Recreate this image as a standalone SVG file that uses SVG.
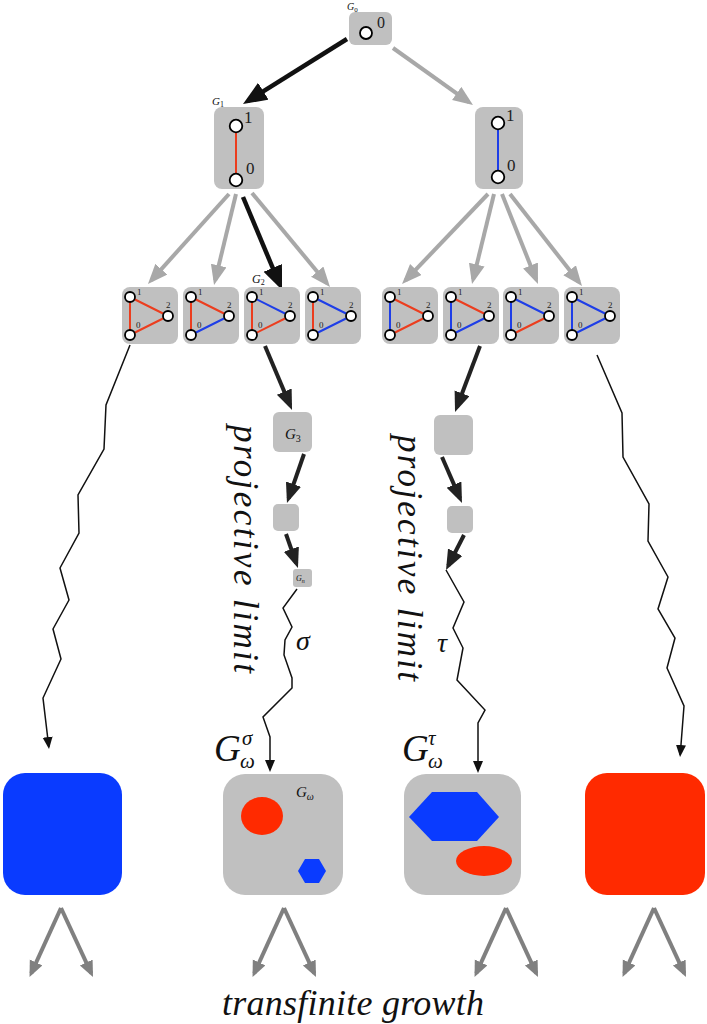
<svg xmlns="http://www.w3.org/2000/svg" width="707" height="1024" viewBox="0 0 707 1024">
<style>
.box{fill:#c0c0c0}
.nd{fill:#fff;stroke:#000;stroke-width:1.8}
.er{stroke:#ec3d1e;stroke-width:2}
.eb{stroke:#1e3ee8;stroke-width:2}
.lab{font-family:"Liberation Serif",serif;fill:#222}
.it{font-family:"Liberation Serif",serif;font-style:italic;fill:#111}
.wv{fill:none;stroke:#111;stroke-width:1.5;stroke-linejoin:miter}
.ab{stroke:#111;stroke-width:4.5;fill:none}
.ag{stroke:#a8a8a8;stroke-width:4;fill:none}
.ac{stroke:#222;stroke-width:4;fill:none}
.abot{stroke:#808080;stroke-width:4;fill:none}
</style>
<defs>
<marker id="hBig" markerUnits="userSpaceOnUse" markerWidth="26" markerHeight="22" refX="18" refY="10" orient="auto"><path d="M0,0 L24,10 L0,20 z" fill="#111"/></marker>
<marker id="hGray" markerUnits="userSpaceOnUse" markerWidth="22" markerHeight="18" refX="15" refY="8" orient="auto"><path d="M0,0 L20,8 L0,16 z" fill="#a8a8a8"/></marker>
<marker id="hChain" markerUnits="userSpaceOnUse" markerWidth="22" markerHeight="18" refX="15" refY="8" orient="auto"><path d="M0,0 L20,8 L0,16 z" fill="#222"/></marker>
<marker id="hSmall" markerUnits="userSpaceOnUse" markerWidth="14" markerHeight="12" refX="10" refY="5" orient="auto"><path d="M0,0 L12,5 L0,10 z" fill="#111"/></marker>
<marker id="hBot" markerUnits="userSpaceOnUse" markerWidth="18" markerHeight="16" refX="12" refY="7" orient="auto"><path d="M0,0 L16,7 L0,14 z" fill="#808080"/></marker>
</defs>

<g id="connectors">
<line class="ab" x1="347" y1="39" x2="248.1" y2="100.8" marker-end="url(#hBig)"/>
<line class="ag" x1="393" y1="48" x2="468.9" y2="102.1" marker-end="url(#hGray)"/>
<line class="ag" x1="229" y1="194" x2="151.3" y2="280.3" marker-end="url(#hGray)"/>
<line class="ag" x1="236" y1="194" x2="215.2" y2="280.1" marker-end="url(#hGray)"/>
<line class="ab" x1="243" y1="197" x2="279.7" y2="284.5" marker-end="url(#hBig)"/>
<line class="ag" x1="252" y1="193" x2="326.8" y2="283.2" marker-end="url(#hGray)"/>
<line class="ag" x1="488" y1="194" x2="405.5" y2="280.4" marker-end="url(#hGray)"/>
<line class="ag" x1="494" y1="194" x2="473.2" y2="279.1" marker-end="url(#hGray)"/>
<line class="ag" x1="502" y1="194" x2="536.1" y2="279.4" marker-end="url(#hGray)"/>
<line class="ag" x1="510" y1="194" x2="578.9" y2="282.1" marker-end="url(#hGray)"/>
<line class="ac" x1="265" y1="346" x2="290.1" y2="405.4" marker-end="url(#hChain)"/>
<line class="ac" x1="304" y1="454" x2="288.6" y2="498.3" marker-end="url(#hChain)"/>
<line class="ac" x1="286" y1="534" x2="296.3" y2="563.3" marker-end="url(#hChain)"/>
<line class="ac" x1="480" y1="346" x2="456.8" y2="407.3" marker-end="url(#hChain)"/>
<line class="ac" x1="442" y1="457" x2="460" y2="498.4" marker-end="url(#hChain)"/>
<line class="ac" x1="464" y1="535" x2="448.3" y2="565.6" marker-end="url(#hChain)"/>
<polyline class="wv" points="130,345 106,405 104,449 78,495 79,533 60,568 69,600 53,629 61,659 43,698 48.8,747" marker-end="url(#hSmall)"/>
<polyline class="wv" points="297,589 283,608 292,627 285,640 284,655 292,678 292,688 263,717 270,737 270,770" marker-end="url(#hSmall)"/>
<polyline class="wv" points="446,570 464,602 453,628 463,648 457,680 485,710 478,723 478,771" marker-end="url(#hSmall)"/>
<polyline class="wv" points="597,355 622,413 623,457 649,504 648,541 668,577 658,609 675,638 667,668 684,706 680.2,755" marker-end="url(#hSmall)"/>
<line class="abot" x1="61" y1="908" x2="31.2" y2="973.4" marker-end="url(#hBot)"/>
<line class="abot" x1="61" y1="908" x2="91.3" y2="973.4" marker-end="url(#hBot)"/>
<line class="abot" x1="284" y1="908" x2="254.2" y2="973.4" marker-end="url(#hBot)"/>
<line class="abot" x1="284" y1="908" x2="314.3" y2="973.4" marker-end="url(#hBot)"/>
<line class="abot" x1="506" y1="908" x2="476.2" y2="973.4" marker-end="url(#hBot)"/>
<line class="abot" x1="506" y1="908" x2="536.3" y2="973.4" marker-end="url(#hBot)"/>
<line class="abot" x1="654" y1="908" x2="624.2" y2="973.4" marker-end="url(#hBot)"/>
<line class="abot" x1="654" y1="908" x2="684.3" y2="973.4" marker-end="url(#hBot)"/>
</g>

<g id="G0">
<rect class="box" x="349" y="12" width="43" height="33" rx="6"/>
<circle class="nd" cx="366" cy="33" r="6"/>
<text class="lab" x="377" y="28" font-size="16">0</text>
<text class="it" x="347" y="10" font-size="10">G<tspan font-style="normal" font-size="7" dy="2">0</tspan></text>
</g>

<g id="G1">
<rect class="box" x="214" y="107" width="50" height="82" rx="8"/>
<line class="er" x1="236" y1="126" x2="236" y2="180"/>
<circle class="nd" cx="236" cy="126" r="6.3"/>
<circle class="nd" cx="236" cy="180" r="6.3"/>
<text class="lab" x="244" y="123" font-size="17">1</text>
<text class="lab" x="246" y="174" font-size="17">0</text>
<text class="it" x="212" y="105" font-size="11">G<tspan font-style="normal" font-size="8" dy="2">1</tspan></text>
</g>

<g id="H1">
<rect class="box" x="475" y="107" width="48" height="82" rx="8"/>
<line class="eb" x1="498" y1="123" x2="498" y2="177"/>
<circle class="nd" cx="498" cy="123" r="6.3"/>
<circle class="nd" cx="498" cy="177" r="6.3"/>
<text class="lab" x="506" y="121" font-size="17">1</text>
<text class="lab" x="507" y="171" font-size="17">0</text>
</g>

<g id="T1" transform="translate(122,287)">
<rect class="box" width="56" height="57" rx="8"/>
<line class="er" x1="8" y1="10" x2="8" y2="48"/><line class="er" x1="8" y1="10" x2="46" y2="29"/><line class="er" x1="8" y1="48" x2="46" y2="29"/>
<circle class="nd" cx="8" cy="10" r="5"/><circle class="nd" cx="46" cy="29" r="5"/><circle class="nd" cx="8" cy="48" r="5"/>
<text class="lab" x="15" y="8" font-size="9">1</text><text class="lab" x="44" y="21" font-size="9">2</text><text class="lab" x="14" y="41" font-size="9">0</text>
</g>
<g id="T2" transform="translate(183,287)">
<rect class="box" width="56" height="57" rx="8"/>
<line class="er" x1="8" y1="10" x2="8" y2="48"/><line class="er" x1="8" y1="10" x2="46" y2="29"/><line class="eb" x1="8" y1="48" x2="46" y2="29"/>
<circle class="nd" cx="8" cy="10" r="5"/><circle class="nd" cx="46" cy="29" r="5"/><circle class="nd" cx="8" cy="48" r="5"/>
<text class="lab" x="15" y="8" font-size="9">1</text><text class="lab" x="44" y="21" font-size="9">2</text><text class="lab" x="14" y="41" font-size="9">0</text>
</g>
<g id="T3" transform="translate(244,287)">
<rect class="box" width="56" height="57" rx="8"/>
<line class="er" x1="8" y1="10" x2="8" y2="48"/><line class="eb" x1="8" y1="10" x2="46" y2="29"/><line class="er" x1="8" y1="48" x2="46" y2="29"/>
<circle class="nd" cx="8" cy="10" r="5"/><circle class="nd" cx="46" cy="29" r="5"/><circle class="nd" cx="8" cy="48" r="5"/>
<text class="lab" x="15" y="8" font-size="9">1</text><text class="lab" x="44" y="21" font-size="9">2</text><text class="lab" x="14" y="41" font-size="9">0</text>
<text class="it" x="8" y="-4" font-size="12">G<tspan font-style="normal" font-size="8" dy="2">2</tspan></text>
</g>
<g id="T4" transform="translate(305,287)">
<rect class="box" width="56" height="57" rx="8"/>
<line class="er" x1="8" y1="10" x2="8" y2="48"/><line class="eb" x1="8" y1="10" x2="46" y2="29"/><line class="eb" x1="8" y1="48" x2="46" y2="29"/>
<circle class="nd" cx="8" cy="10" r="5"/><circle class="nd" cx="46" cy="29" r="5"/><circle class="nd" cx="8" cy="48" r="5"/>
<text class="lab" x="15" y="8" font-size="9">1</text><text class="lab" x="44" y="21" font-size="9">2</text><text class="lab" x="14" y="41" font-size="9">0</text>
</g>
<g id="T5" transform="translate(382,287)">
<rect class="box" width="56" height="57" rx="8"/>
<line class="eb" x1="8" y1="10" x2="8" y2="48"/><line class="er" x1="8" y1="10" x2="46" y2="29"/><line class="er" x1="8" y1="48" x2="46" y2="29"/>
<circle class="nd" cx="8" cy="10" r="5"/><circle class="nd" cx="46" cy="29" r="5"/><circle class="nd" cx="8" cy="48" r="5"/>
<text class="lab" x="15" y="8" font-size="9">1</text><text class="lab" x="44" y="21" font-size="9">2</text><text class="lab" x="14" y="41" font-size="9">0</text>
</g>
<g id="T6" transform="translate(443,287)">
<rect class="box" width="56" height="57" rx="8"/>
<line class="eb" x1="8" y1="10" x2="8" y2="48"/><line class="er" x1="8" y1="10" x2="46" y2="29"/><line class="eb" x1="8" y1="48" x2="46" y2="29"/>
<circle class="nd" cx="8" cy="10" r="5"/><circle class="nd" cx="46" cy="29" r="5"/><circle class="nd" cx="8" cy="48" r="5"/>
<text class="lab" x="15" y="8" font-size="9">1</text><text class="lab" x="44" y="21" font-size="9">2</text><text class="lab" x="14" y="41" font-size="9">0</text>
</g>
<g id="T7" transform="translate(503,287)">
<rect class="box" width="56" height="57" rx="8"/>
<line class="eb" x1="8" y1="10" x2="8" y2="48"/><line class="eb" x1="8" y1="10" x2="46" y2="29"/><line class="er" x1="8" y1="48" x2="46" y2="29"/>
<circle class="nd" cx="8" cy="10" r="5"/><circle class="nd" cx="46" cy="29" r="5"/><circle class="nd" cx="8" cy="48" r="5"/>
<text class="lab" x="15" y="8" font-size="9">1</text><text class="lab" x="44" y="21" font-size="9">2</text><text class="lab" x="14" y="41" font-size="9">0</text>
</g>
<g id="T8" transform="translate(564,287)">
<rect class="box" width="56" height="57" rx="8"/>
<line class="eb" x1="8" y1="10" x2="8" y2="48"/><line class="eb" x1="8" y1="10" x2="46" y2="29"/><line class="eb" x1="8" y1="48" x2="46" y2="29"/>
<circle class="nd" cx="8" cy="10" r="5"/><circle class="nd" cx="46" cy="29" r="5"/><circle class="nd" cx="8" cy="48" r="5"/>
<text class="lab" x="15" y="8" font-size="9">1</text><text class="lab" x="44" y="21" font-size="9">2</text><text class="lab" x="14" y="41" font-size="9">0</text>
</g>

<g id="G3">
<rect class="box" x="273" y="412" width="39" height="40" rx="6"/>
<text class="it" x="285" y="439" font-size="15">G<tspan font-style="normal" font-size="10" dy="3">3</tspan></text>
</g>
<g id="G4"><rect class="box" x="273" y="504" width="26" height="27" rx="5"/></g>
<g id="Gn">
<rect class="box" x="293" y="569" width="19" height="18" rx="3"/>
<text class="it" x="296" y="581" font-size="8">G<tspan font-size="6" dy="1.5">n</tspan></text>
</g>
<g id="H3"><rect class="box" x="434" y="415" width="39" height="40" rx="6"/></g>
<g id="H4"><rect class="box" x="447" y="506" width="26" height="27" rx="5"/></g>

<g id="labels">
<text class="it" font-size="35" transform="translate(234,425) rotate(90)" textLength="248" lengthAdjust="spacing">projective limit</text>
<text class="it" font-size="35" transform="translate(398,435) rotate(90)" textLength="246" lengthAdjust="spacing">projective limit</text>
<text class="it" x="296" y="650" font-size="28">σ</text>
<text class="it" x="437" y="652" font-size="28">τ</text>
<text class="it" x="214" y="761" font-size="37">G</text>
<text class="it" x="242" y="745" font-size="21">σ</text>
<text class="it" x="240" y="768" font-size="21">ω</text>
<text class="it" x="402" y="761" font-size="37">G</text>
<text class="it" x="428" y="745" font-size="21">τ</text>
<text class="it" x="428" y="768" font-size="21">ω</text>
<text class="it" x="353" y="1015" font-size="36" text-anchor="middle" textLength="262" lengthAdjust="spacing">transfinite growth</text>
</g>

<g id="Bblue"><rect x="3" y="773" width="119" height="122" rx="22" fill="#0a3bff"/></g>
<g id="Bsigma">
<rect class="box" x="223" y="774" width="120" height="121" rx="22"/>
<ellipse cx="262" cy="816" rx="21" ry="19" fill="#ff2a00"/>
<polygon points="298,871 305,859 319,859 326,871 319,883 305,883" fill="#0a3bff"/>
<text class="it" x="296" y="797" font-size="15">G<tspan font-size="10" dy="3">ω</tspan></text>
</g>
<g id="Btau">
<rect class="box" x="404" y="774" width="117" height="121" rx="22"/>
<polygon points="409,817 432,792 477,792 499,817 477,841 432,841" fill="#0a3bff"/>
<ellipse cx="484" cy="861" rx="28" ry="15" fill="#ff2a00"/>
</g>
<g id="Bred"><rect x="585" y="773" width="120" height="122" rx="22" fill="#ff2a00"/></g>
</svg>
